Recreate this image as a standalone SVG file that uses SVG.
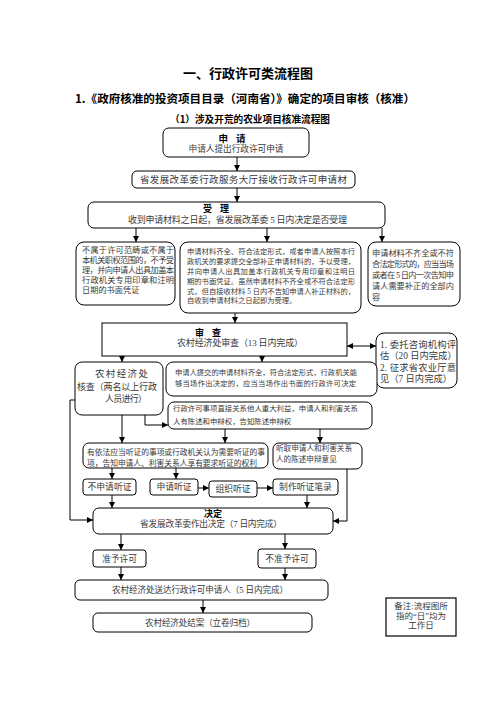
<svg xmlns="http://www.w3.org/2000/svg" width="496" height="702" viewBox="0 0 496 702">
<style>
.bx{fill:#fff;stroke:#000;stroke-width:1}
.t{font-family:"Liberation Serif","Noto Sans CJK SC",serif;fill:#3a3a3a}
.h{font-family:"Noto Sans CJK SC",sans-serif;font-weight:bold;fill:#000}
.m{text-anchor:middle}
.cn line,.cn path{stroke:#000;stroke-width:1;fill:none}
</style>
<defs>
<marker id="ah" markerUnits="userSpaceOnUse" markerWidth="6" markerHeight="6" refX="6" refY="3" orient="auto-start-reverse"><path d="M0,0 L6,3 L0,6 z" fill="#000"/></marker>
</defs>
<rect width="496" height="702" fill="#fff"/>
<g id="titles">
<text class="h m" x="248" y="77.5" font-size="13">一、行政许可类流程图</text>
<text class="h m" x="245" y="103" font-size="11.4" textLength="340" lengthAdjust="spacingAndGlyphs">1.《政府核准的投资项目目录（河南省）》确定的项目审核（核准）</text>
<text class="h m" x="250" y="122.5" font-size="9.7" textLength="160" lengthAdjust="spacingAndGlyphs">（1）涉及开荒的农业项目核准流程图</text>
</g>
<g class="cn" id="connectors">
<line x1="237" y1="157" x2="237" y2="171" marker-end="url(#ah)"/>
<line x1="237" y1="188" x2="237" y2="202" marker-end="url(#ah)"/>
<line x1="136" y1="228" x2="136" y2="242" marker-end="url(#ah)"/>
<line x1="267" y1="228" x2="267" y2="242" marker-end="url(#ah)"/>
<line x1="382" y1="228" x2="382" y2="242" marker-end="url(#ah)"/>
<line x1="235" y1="313" x2="235" y2="323" marker-end="url(#ah)"/>
<line x1="347" y1="346" x2="376" y2="346" marker-start="url(#ah)" marker-end="url(#ah)"/>
<line x1="122" y1="356" x2="122" y2="362" marker-end="url(#ah)"/>
<line x1="262" y1="356" x2="262" y2="362" marker-end="url(#ah)"/>
<path d="M145 415 V425 H168" marker-end="url(#ah)"/>
<line x1="122" y1="415" x2="122" y2="443" marker-end="url(#ah)"/>
<line x1="225" y1="429" x2="225" y2="443" marker-end="url(#ah)"/>
<line x1="320" y1="429" x2="320" y2="443" marker-end="url(#ah)"/>
<line x1="112" y1="468" x2="112" y2="479" marker-end="url(#ah)"/>
<line x1="176" y1="468" x2="176" y2="479" marker-end="url(#ah)"/>
<line x1="198" y1="488" x2="209" y2="488" marker-end="url(#ah)"/>
<line x1="257" y1="488" x2="273" y2="488" marker-end="url(#ah)"/>
<line x1="112" y1="495" x2="112" y2="508" marker-end="url(#ah)"/>
<line x1="307" y1="495" x2="307" y2="508" marker-end="url(#ah)"/>
<path d="M347 469 V521 H333" marker-end="url(#ah)"/>
<path d="M75 400 H70 V520 H93" marker-end="url(#ah)"/>
<line x1="121" y1="534" x2="121" y2="550" marker-end="url(#ah)"/>
<line x1="285" y1="534" x2="285" y2="549" marker-end="url(#ah)"/>
<line x1="121" y1="567" x2="121" y2="580" marker-end="url(#ah)"/>
<line x1="285" y1="568" x2="285" y2="580" marker-end="url(#ah)"/>
<line x1="203" y1="600" x2="203" y2="613" marker-end="url(#ah)"/>
</g>
<g id="n-apply">
<rect class="bx" x="163" y="128" width="146" height="29" rx="6"/>
<text class="h m" x="236" y="141.5" font-size="9.5" letter-spacing="8">申请</text>
<text class="t m" x="236" y="151.5" font-size="8.7" textLength="95">申请人提出行政许可申请</text>
</g>
<g id="n-receive">
<rect class="bx" x="132" y="171" width="223" height="17" rx="5"/>
<text class="t m" x="243.5" y="183.3" font-size="9.5" textLength="207">省发展改革委行政服务大厅接收行政许可申请材</text>
</g>
<g id="n-accept">
<rect class="bx" x="88" y="202" width="297" height="26" rx="6"/>
<text class="h m" x="220" y="211.8" font-size="9" letter-spacing="8">受理</text>
<text class="t" x="128" y="223.3" font-size="9" textLength="219">收到申请材料之日起，省发展改革委 5 日内决定是否受理</text>
</g>
<g id="n-reject" class="t" font-size="8.2">
<rect class="bx" x="76" y="242" width="99" height="63" rx="8"/>
<text x="82" y="253" textLength="92">不属于许可范畴或不属于</text>
<text x="82" y="263" textLength="92">本机关职权范围的，不予受</text>
<text x="82" y="273" textLength="92">理，并向申请人出具加盖本</text>
<text x="82" y="283" textLength="92">行政机关专用印章和注明</text>
<text x="82" y="293">日期的书面凭证</text>
</g>
<g id="n-ok" class="t" font-size="7.3">
<rect class="bx" x="180" y="242" width="181" height="71" rx="8"/>
<text x="187" y="253.6" textLength="168">申请材料齐全、符合法定形式，或者申请人按照本行</text>
<text x="187" y="263.6" textLength="168">政机关的要求提交全部补正申请材料的，予以受理，</text>
<text x="187" y="273.6" textLength="168">并向申请人出具加盖本行政机关专用印章和注明日</text>
<text x="187" y="283.6" textLength="168">期的书面凭证。虽然申请材料不齐全或不符合法定形</text>
<text x="187" y="293.6" textLength="168">式，但自接收材料 5 日内不告知申请人补正材料的，</text>
<text x="187" y="302.6">自收到申请材料之日起即为受理。</text>
</g>
<g id="n-incomplete" class="t" font-size="8.2">
<rect class="bx" x="368" y="242" width="92" height="64" rx="8"/>
<text x="372" y="256" textLength="82">申请材料不齐全或不符</text>
<text x="372" y="267" textLength="82">合法定形式的，应当当场</text>
<text x="372" y="278" textLength="82">或者在 5 日内一次告知申</text>
<text x="372" y="289" textLength="82">请人需要补正的全部内</text>
<text x="372" y="299.5">容</text>
</g>
<g id="n-review">
<rect class="bx" x="102" y="323" width="245" height="33"/>
<text class="h m" x="212" y="335.5" font-size="9" letter-spacing="8">审查</text>
<text class="t" x="177" y="345.5" font-size="9" textLength="126">农村经济处审查（13 日内完成）</text>
</g>
<g id="n-consult" class="t" font-size="9.3">
<rect class="bx" x="376" y="333" width="81" height="55" rx="8"/>
<text x="380" y="347.5" textLength="76">1. 委托咨询机构评</text>
<text x="380" y="359">估（20 日内完成）</text>
<text x="380" y="370.5" textLength="76">2. 征求省农业厅意</text>
<text x="380" y="382">见（7 日内完成）</text>
</g>
<g id="n-check" class="t">
<rect class="bx" x="75" y="362" width="88" height="53" rx="7"/>
<text class="m" x="121.5" y="376.5" font-size="9.5" textLength="53">农村经济处</text>
<text x="77" y="390.3" font-size="9" textLength="80">核查（两名以上行政</text>
<text x="105" y="402.3" font-size="9" textLength="42">人员进行）</text>
</g>
<g id="n-spot" class="t" font-size="7.3">
<rect class="bx" x="166" y="362" width="211" height="34" rx="7"/>
<text x="175" y="374.6" textLength="182">申请人提交的申请材料齐全，符合法定形式，行政机关能</text>
<text x="175" y="385.6" textLength="181">够当场作出决定的，应当当场作出书面的行政许可决定</text>
</g>
<g id="n-interest" class="t" font-size="7.4">
<rect class="bx" x="168" y="402" width="204" height="27" rx="6"/>
<text x="173" y="410.7" textLength="185">行政许可事项直接关系他人重大利益，申请人和利害关系</text>
<text x="173" y="423.7">人有陈述和申辩权，告知陈述申辩权</text>
</g>
<g id="n-hearing" class="t" font-size="7.8">
<rect class="bx" x="83" y="443" width="185" height="25" rx="6"/>
<text x="87" y="454.7" textLength="178">有依法应当听证的事项或行政机关认为需要听证的事</text>
<text x="87" y="465.7" textLength="170">项，告知申请人、利害关系人享有要求听证的权利</text>
</g>
<g id="n-listen" class="t" font-size="7.6">
<rect class="bx" x="273" y="443" width="89" height="26" rx="6"/>
<text x="276" y="451" textLength="76">听取申请人和利害关系</text>
<text x="276" y="462">人的陈述申辩意见</text>
</g>
<g id="n-nohear" class="t m" font-size="8.8">
<rect class="bx" x="83" y="479" width="53" height="16" rx="3"/>
<text x="109.5" y="490.2">不申请听证</text>
</g>
<g id="n-reqhear" class="t m" font-size="8.8">
<rect class="bx" x="150" y="479" width="48" height="16" rx="3"/>
<text x="174" y="490.2">申请听证</text>
</g>
<g id="n-orghear" class="t m" font-size="8.8">
<rect class="bx" x="209" y="481" width="48" height="16" rx="3"/>
<text x="233" y="492.2">组织听证</text>
</g>
<g id="n-record" class="t m" font-size="8.8">
<rect class="bx" x="273" y="479" width="65" height="16" rx="3"/>
<text x="305.5" y="490.2">制作听证笔录</text>
</g>
<g id="n-decide">
<rect class="bx" x="93" y="508" width="240" height="26" rx="6"/>
<text class="h m" x="213" y="516.5" font-size="9">决定</text>
<text class="t" x="140" y="527" font-size="8.7" textLength="142">省发展改革委作出决定（7 日内完成）</text>
</g>
<g id="n-grant" class="t m" font-size="8.7">
<rect class="bx" x="93" y="550" width="53" height="17" rx="3"/>
<text x="119.5" y="561.5">准予许可</text>
</g>
<g id="n-deny" class="t m" font-size="8.7">
<rect class="bx" x="258" y="549" width="58" height="19" rx="3"/>
<text x="287" y="561.7">不准予许可</text>
</g>
<g id="n-deliver" class="t" font-size="8.6">
<rect class="bx" x="75" y="580" width="253" height="20" rx="5"/>
<text x="112" y="593" textLength="176">农村经济处送达行政许可申请人（5 日内完成）</text>
</g>
<g id="n-close" class="t" font-size="8.6">
<rect class="bx" x="93" y="613" width="219" height="19" rx="5"/>
<text x="145" y="625.5" textLength="110">农村经济处结案（立卷归档）</text>
</g>
<g id="n-note" class="t m" font-size="8.5">
<rect x="386" y="598" width="70" height="38" fill="#fff" stroke="#000" stroke-width="1.2"/>
<text x="421" y="608.5">备注:流程图所</text>
<text x="421" y="618.5">指的“日”均为</text>
<text x="421" y="628">工作日</text>
</g>
</svg>
